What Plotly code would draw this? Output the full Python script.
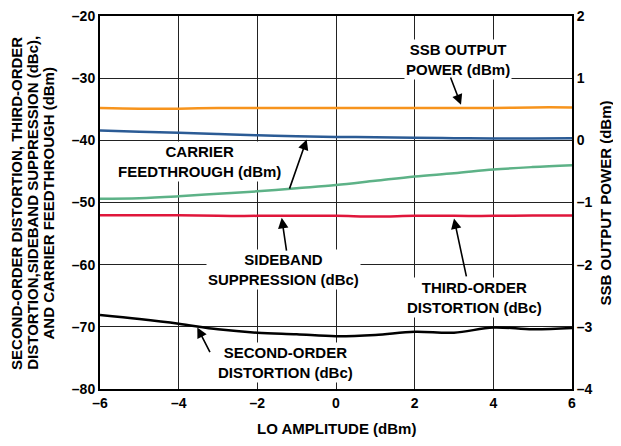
import plotly.graph_objects as go

lo_amp = [-6, -5, -4, -3, -2, -1, 0, 1, 2, 3, 4, 5, 6]
ssb_power = [0.52, 0.51, 0.51, 0.52, 0.52, 0.52, 0.52, 0.52, 0.52, 0.52, 0.52, 0.53, 0.53]
carrier_ft = [-38.4, -38.6, -38.8, -39.0, -39.2, -39.35, -39.45, -39.5, -39.6, -39.65, -39.7, -39.7, -39.65]
green_series = [-49.4, -49.3, -49.0, -48.6, -48.2, -47.7, -47.2, -46.5, -45.8, -45.3, -44.7, -44.3, -44.0]
sideband_sup = [-52.05, -52.05, -52.05, -52.15, -52.15, -52.15, -52.15, -52.25, -52.15, -52.15, -52.15, -52.1, -52.1]
second_order = [-68.1, -68.75, -69.5, -70.4, -70.95, -71.2, -71.5, -71.3, -70.8, -70.95, -70.1, -70.4, -70.2]

x_ticks = [-6, -4, -2, 0, 2, 4, 6]
x_ticktext = ["–6", "–4", "–2", "0", "2", "4", "6"]
yl_ticks = [-80, -70, -60, -50, -40, -30, -20]
yl_ticktext = ["–80", "–70", "–60", "–50", "–40", "–30", "–20"]
yr_ticks = [-4, -3, -2, -1, 0, 1, 2]
yr_ticktext = ["–4", "–3", "–2", "–1", "0", "1", "2"]

left_title_lines = ["SECOND-ORDER DISTORTION, THIRD-ORDER",
                    "DISTORTION,SIDEBAND SUPPRESSION (dBc),",
                    "AND CARRIER FEEDTHROUGH (dBm)"]

FONT = "Liberation Sans, Arial, sans-serif"

fig = go.Figure()
fig.add_trace(go.Scatter(x=lo_amp, y=ssb_power, yaxis="y2", mode="lines",
                         line=dict(color="#F7941D", width=2.5, shape="spline")))
fig.add_trace(go.Scatter(x=lo_amp, y=carrier_ft, mode="lines",
                         line=dict(color="#2B5B95", width=2.5, shape="spline")))
fig.add_trace(go.Scatter(x=lo_amp, y=green_series, mode="lines",
                         line=dict(color="#5DB287", width=2.5, shape="spline")))
fig.add_trace(go.Scatter(x=lo_amp, y=sideband_sup, mode="lines",
                         line=dict(color="#E0163B", width=2.5, shape="spline")))
fig.add_trace(go.Scatter(x=lo_amp, y=second_order, mode="lines",
                         line=dict(color="#000000", width=2.5, shape="spline")))

tf = dict(family=FONT, size=14, color="black", weight="bold")
af = dict(family=FONT, size=15, color="black", weight="bold")

texts = [
    ("SSB OUTPUT<br>POWER (dBm)", 3.10, -26.92),
    ("CARRIER<br>FEEDTHROUGH (dBm)", -3.48, -43.45),
    ("SIDEBAND<br>SUPPRESSION (dBc)", -1.34, -60.85),
    ("THIRD-ORDER<br>DISTORTION (dBc)", 3.51, -65.23),
    ("SECOND-ORDER<br>DISTORTION (dBc)", -1.28, -75.76),
]
arrows = [
    (3.178, -34.28, 2.898, -29.66),
    (-0.745, -39.85, -1.195, -48.01),
    (-1.380, -52.47, -1.253, -57.99),
    (3.0, -52.58, 3.323, -62.13),
    (-3.526, -70.09, -3.185, -74.32),
]

annotations = []
for t, x, y in texts:
    annotations.append(dict(text=t, x=x, y=y, xref="x", yref="y", showarrow=False,
                            font=af, bgcolor="white", borderpad=1, align="center",
                            xanchor="center", yanchor="middle"))
for xt, yt, xs, ys in arrows:
    annotations.append(dict(text="", x=xt, y=yt, ax=xs, ay=ys, xref="x", yref="y",
                            axref="x", ayref="y", showarrow=True, arrowhead=2,
                            arrowsize=1.3, arrowwidth=1.6, arrowcolor="black", standoff=0))

for line, px in zip(left_title_lines, [-0.176, -0.1425, -0.109]):
    annotations.append(dict(text=line, x=px, y=0.4987, xref="paper", yref="paper",
                            textangle=-90, xanchor="center", yanchor="middle",
                            showarrow=False, font=af))
annotations.append(dict(text="SSB OUTPUT POWER (dBm)", x=1.072, y=0.5, xref="paper", yref="paper",
                        xanchor="center", yanchor="middle",
                        textangle=-90, showarrow=False, font=af))
annotations.append(dict(text="LO AMPLITUDE (dBm)", x=0.5, y=-0.1046, xref="paper", yref="paper",
                        xanchor="center", yanchor="middle",
                        showarrow=False, font=af))

fig.update_layout(
    width=613, height=430,
    margin=dict(l=92, r=49, t=8, b=49, autoexpand=False),
    paper_bgcolor="white", plot_bgcolor="white",
    showlegend=False,
    font=tf,
    annotations=annotations,
    xaxis=dict(range=[-6, 6], tickvals=x_ticks, ticktext=x_ticktext,
               showgrid=True, gridcolor="#222", gridwidth=1, zeroline=False,
               showline=True, linecolor="black", linewidth=2, mirror=True,
               ticks="", tickfont=tf, automargin=False, ticklabeloverflow="allow"),
    yaxis=dict(range=[-80, -20], tickvals=yl_ticks, ticktext=yl_ticktext,
               showgrid=True, gridcolor="#222", gridwidth=1, zeroline=False,
               showline=True, linecolor="black", linewidth=2, mirror=True,
               ticks="", tickfont=tf, automargin=False, ticklabeloverflow="allow"),
    yaxis2=dict(range=[-4, 2], tickvals=yr_ticks, ticktext=yr_ticktext,
                overlaying="y", side="right", showgrid=False, zeroline=False,
                showline=True, linecolor="black", linewidth=2,
                ticks="", tickfont=tf, automargin=False, ticklabeloverflow="allow"),
)

fig.write_html("out.html")
